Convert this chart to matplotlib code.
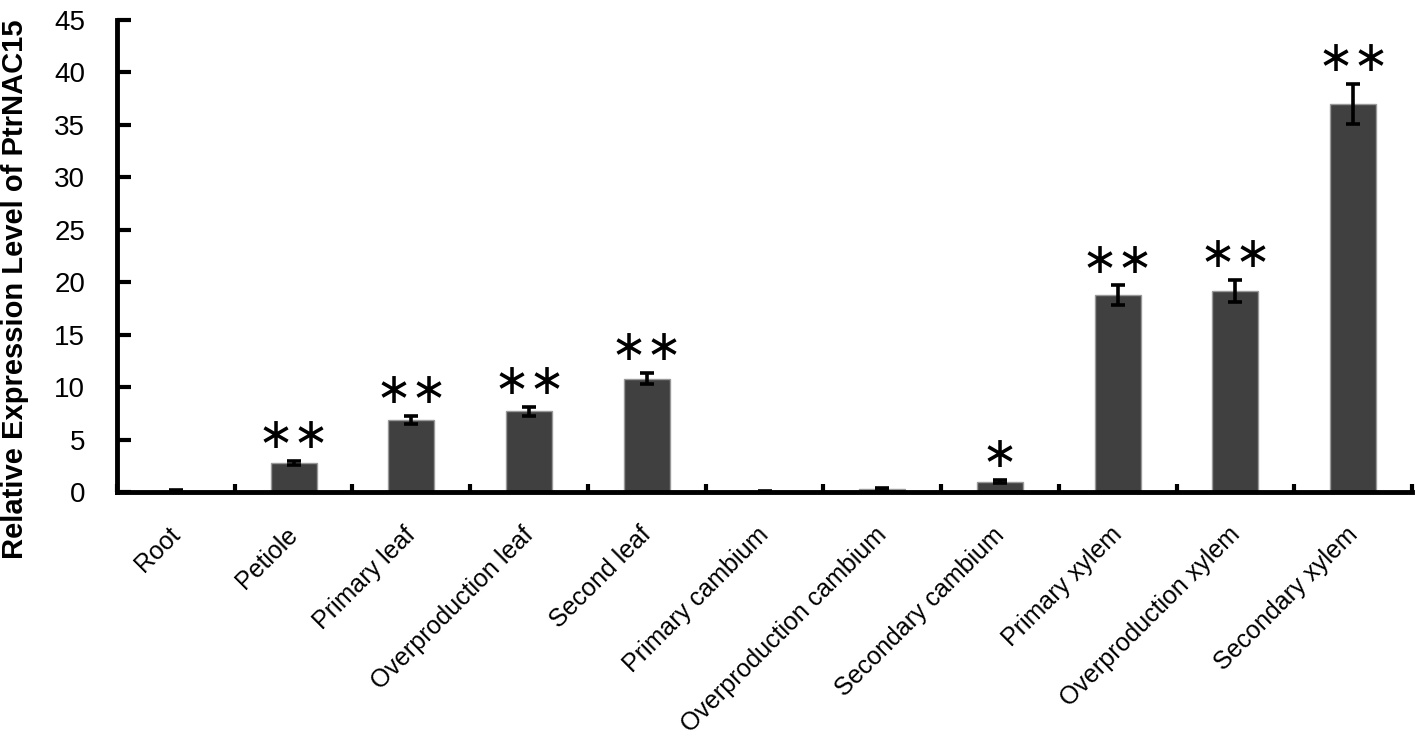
import matplotlib
matplotlib.use("Agg")
import matplotlib.pyplot as plt
import matplotlib.transforms as mtransforms
import numpy as np

categories = ["Root", "Petiole", "Primary leaf", "Overproduction leaf", "Second leaf",
              "Primary cambium", "Overproduction cambium", "Secondary cambium",
              "Primary xylem", "Overproduction xylem", "Secondary xylem"]
values = [0.1, 2.75, 6.85, 7.7, 10.8, 0.05, 0.25, 1.0, 18.75, 19.15, 37.0]
errors = [0.08, 0.2, 0.4, 0.45, 0.55, 0.08, 0.12, 0.15, 0.95, 1.05, 1.9]
signif = ["", "**", "**", "**", "**", "", "", "*", "**", "**", "**"]
yticks = [0, 5, 10, 15, 20, 25, 30, 35, 40, 45]

W, H = 1418, 743
fig = plt.figure(figsize=(W / 100, H / 100), dpi=100)
ax = fig.add_axes([117 / W, (H - 492) / H, (1412 - 117) / W, (492 - 20) / H])

x = np.arange(len(categories))
ax.bar(x, values, width=0.39, color="#404040", edgecolor="#999999", linewidth=1.0, zorder=2)
ax.errorbar(x, values, yerr=errors, fmt="none", ecolor="black", elinewidth=2.6,
            capsize=5, capthick=2.6, zorder=3)

for xi, v, e, s in zip(x, values, errors, signif):
    if s:
        ax.text(xi, v + e + 0.35, s.replace("*", "\u2217"), ha="center", va="bottom",
                fontsize=31, family="DejaVu Sans", color="black")

ax.set_xlim(-0.5, len(categories) - 0.5)
ax.set_ylim(0, 45)
ax.set_yticks(yticks)
ax.set_yticklabels([str(t) for t in yticks], fontsize=20, family="Liberation Sans")
ax.tick_params(axis="y", direction="in", length=10, width=3, pad=23)

ax.set_xticks(x)
ax.set_xticklabels(categories, rotation=45, ha="right", rotation_mode="anchor",
                   fontsize=18, family="Liberation Sans")
ax.tick_params(axis="x", length=0, pad=22)
shift = mtransforms.ScaledTranslation(-8 / 100, 0, fig.dpi_scale_trans)
for lbl in ax.get_xticklabels():
    lbl.set_transform(lbl.get_transform() + shift)
ax.set_xticks(np.arange(len(categories) + 1) - 0.5, minor=True)
ax.tick_params(axis="x", which="minor", direction="in", length=6, width=3)

for side in ["top", "right"]:
    ax.spines[side].set_visible(False)
for side in ["left", "bottom"]:
    ax.spines[side].set_linewidth(3.5)

ax.set_ylabel("Relative Expression Level of PtrNAC15", fontsize=21, fontweight="bold",
              family="Liberation Sans")
ax.yaxis.set_label_coords(-88 / (1412 - 117), (492 - 289) / (492 - 20))

fig.savefig("out.png", dpi=100)
